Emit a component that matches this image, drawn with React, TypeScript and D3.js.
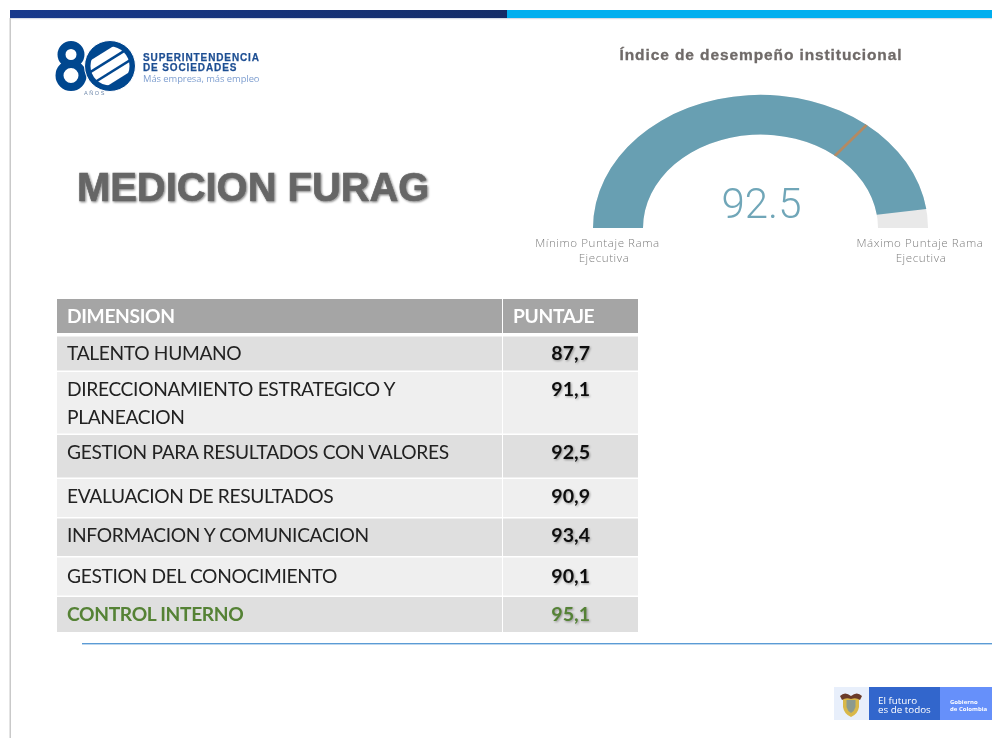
import React from "react";
import * as d3 from "d3";

const dimensions = [
  ["TALENTO HUMANO"],
  ["DIRECCIONAMIENTO ESTRATEGICO Y", "PLANEACION"],
  ["GESTION PARA RESULTADOS CON VALORES"],
  ["EVALUACION DE RESULTADOS"],
  ["INFORMACION Y COMUNICACION"],
  ["GESTION DEL CONOCIMIENTO"],
  ["CONTROL INTERNO"],
];
const scores = [87.7, 91.1, 92.5, 90.9, 93.4, 90.1, 95.1];
const columnHeaders = ["DIMENSION", "PUNTAJE"];
const gaugeTitle = "Índice de desempeño institucional";
const gaugeValue = 92.5;
const gaugeMin = 0;
const gaugeMax = 96.9;
const gaugeTarget = 69.6;
const minLabel = ["Mínimo Puntaje Rama", "Ejecutiva"];
const maxLabel = ["Máximo Puntaje Rama", "Ejecutiva"];

// layout
const rowTops = [336.5, 372, 435, 479, 518.5, 557.5, 597];
const rowBottoms = [370.5, 433.5, 477.5, 517, 556, 595.5, 632];
const rowTextY = [360, 396, 459, 503, 542, 583, 621];
const cx = 760.5, cy = 228, rOuter = 167.5, rInner = 117.5, squash = 0.795;

const fmt = (v: number) => d3.format(".1f")(v).replace(".", ",");

export default function App() {
  const angle = d3.scaleLinear().domain([gaugeMin, gaugeMax]).range([-Math.PI / 2, Math.PI / 2]);
  const arc = d3.arc<any>().innerRadius(rInner).outerRadius(rOuter);
  const full = arc({ startAngle: angle(gaugeMin), endAngle: angle(gaugeMax) }) as string;
  const filled = arc({ startAngle: angle(gaugeMin), endAngle: angle(gaugeValue) }) as string;
  const t = angle(gaugeTarget);
  const sans = "'Liberation Sans', Arial, sans-serif";
  const lato = "Lato, sans-serif";
  const thin = "'Open Sans', Lato, sans-serif";
  const rowText = { fontFamily: lato, fontSize: 19.2, letterSpacing: -0.34 };
  return (
    <svg width={992} height={738} viewBox="0 0 992 738" style={{ position: "absolute", left: 0, top: 0, background: "#fff" }}>
      <defs>
        <filter id="b"><feGaussianBlur stdDeviation="0.6" /></filter>
        <filter id="b2"><feGaussianBlur stdDeviation="0.6" /></filter>
        <filter id="sh" x="-5%" y="-20%" width="110%" height="140%">
          <feGaussianBlur in="SourceGraphic" stdDeviation="0.5" result="t" />
          <feDropShadow in="t" dx="1" dy="1" stdDeviation="1.2" floodColor="#000" floodOpacity="0.5" />
        </filter>
        <linearGradient id="navy" x1="0" x2="1">
          <stop offset="0" stopColor="#17398c" />
          <stop offset="1" stopColor="#132c68" />
        </linearGradient>
        <clipPath id="lens"><circle cx={110} cy={66} r={19.5} /></clipPath>
      </defs>

      <rect x={10} y={10} width={497} height={8} fill="url(#navy)" />
      <rect x={507} y={10} width={485} height={8} fill="#00aeef" />
      <rect x={10} y={18} width={982} height={1.2} fill="#d6dbe6" />
      <rect x={9.5} y={18} width={1.5} height={720} fill="#c9c9c9" />

      <g filter="url(#b)">
        <g fill="none" stroke="#06478f" strokeWidth={8}>
          <circle cx={71} cy={54.5} r={9.5} />
          <circle cx={71} cy={75.5} r={11.5} />
        </g>
        <circle cx={110} cy={66} r={25.5} fill="#06478f" stroke="#fff" strokeWidth={1} />
        <g clipPath="url(#lens)">
          <g transform="rotate(-32 110 66)" fill="#fff">
            <rect x={88} y={51} width={44} height={8.5} />
            <rect x={88} y={62} width={44} height={8.5} />
            <rect x={88} y={73} width={44} height={8.5} />
          </g>
        </g>
        <text x={95} y={95} fontFamily={sans} fontSize={5.5} letterSpacing={1.6} textAnchor="middle" fill="#6d87aa">AÑOS</text>
        <text x={143} y={60.5} fontFamily={sans} fontWeight={700} fontSize={10} letterSpacing={0.88} fill="#1f4f93" stroke="#1f4f93" strokeWidth={0.25}>SUPERINTENDENCIA</text>
        <text x={143} y={71} fontFamily={sans} fontWeight={700} fontSize={10} letterSpacing={0.88} fill="#1f4f93" stroke="#1f4f93" strokeWidth={0.25}>DE SOCIEDADES</text>
        <text x={143} y={82} fontFamily={thin} fontSize={9.4} letterSpacing={-0.05} fill="#7f9fd0">Más empresa, más empleo</text>
      </g>

      <text x={77} y={201} fontFamily={sans} fontWeight={700} fontSize={39.9} fill="#666" stroke="#666" strokeWidth={0.7} filter="url(#sh)">MEDICION FURAG</text>

      <g filter="url(#b)">
        <text x={761} y={60} fontFamily={sans} fontWeight={700} fontSize={15.5} letterSpacing={0.9} textAnchor="middle" fill="#6f6a68" stroke="#6f6a68" strokeWidth={0.3}>{gaugeTitle}</text>
        <g transform={`translate(${cx},${cy}) scale(1,${squash})`}>
          <path d={full} fill="#e9e9e9" />
          <path d={filled} fill="#689fb2" />
          <line
            x1={rInner * Math.sin(t)} y1={-rInner * Math.cos(t)}
            x2={rOuter * Math.sin(t)} y2={-rOuter * Math.cos(t)}
            stroke="#b48a62" strokeWidth={3}
          />
        </g>
        <text x={761.5} y={218} fontFamily="Roboto, sans-serif" fontWeight={300} fontSize={42} textAnchor="middle" fill="#6fa6b8">{String(gaugeValue)}</text>
        {minLabel.map((s, i) => (
          <text key={s} x={i ? 604 : 597.5} y={247 + i * 15} fontFamily={thin} fontWeight={300} fontSize={11.6} letterSpacing={0.55} textAnchor="middle" fill="#808080">{s}</text>
        ))}
        {maxLabel.map((s, i) => (
          <text key={s} x={i ? 921 : 920} y={247 + i * 15} fontFamily={thin} fontWeight={300} fontSize={11.6} letterSpacing={0.55} textAnchor="middle" fill="#808080">{s}</text>
        ))}
      </g>

      <g filter="url(#b)">
        <rect x={57} y={299} width={445} height={34} fill="#a5a5a5" />
        <rect x={503} y={299} width={135} height={34} fill="#a5a5a5" />
        <text x={67} y={323} {...rowText} fontWeight={700} fill="#fff">{columnHeaders[0]}</text>
        <text x={513} y={323} {...rowText} fontWeight={700} fill="#fff">{columnHeaders[1]}</text>
        {dimensions.map((lines, i) => {
          const green = i === dimensions.length - 1;
          const fill = i % 2 === 0 ? "#dfdfdf" : "#efefef";
          return (
            <g key={lines[0]}>
              <rect x={57} y={rowTops[i]} width={445} height={rowBottoms[i] - rowTops[i]} fill={fill} />
              <rect x={503} y={rowTops[i]} width={135} height={rowBottoms[i] - rowTops[i]} fill={fill} />
              {lines.map((s, j) => (
                <text key={s} x={67} y={rowTextY[i] + j * 28} {...rowText} fontWeight={green ? 700 : 400} fill={green ? "#548235" : "#222"}>{s}</text>
              ))}
              <text x={590} y={rowTextY[i]} textAnchor="end" fontFamily={lato} fontSize={19.6} fontWeight={700} fill={green ? "#548235" : "#111"} style={{ filter: "drop-shadow(1px 1px 1px rgba(0,0,0,.35))" }}>{fmt(scores[i])}</text>
            </g>
          );
        })}
      </g>

      <rect x={82} y={643} width={910} height={1.4} fill="#5b9bd5" />

      <g filter="url(#b2)">
        <rect x={834} y={687} width={35} height={33} fill="#e8effb" />
        <rect x={869} y={687} width={71} height={33} fill="#3366cc" />
        <rect x={940} y={687} width={52} height={33} fill="#6690fa" />
        <path d="M843 697 h16 v10 q-1 7 -8 10 q-7 -3 -8 -10 z" fill="#d9b84a" />
        <path d="M846.5 700 h9 v7 q-1 4 -4.5 6 q-3.5 -2 -4.5 -6 z" fill="#8c9a8e" />
        <path d="M840 696 q5 -5 11 0 q6 -5 11 0 l-2 4 q-4 -3 -9 -1 q-5 -2 -9 1 z" fill="#6b3b2a" />
        <text x={878} y={704} fontFamily={thin} fontSize={9.8} fill="#fff">El futuro</text>
        <text x={878} y={713} fontFamily={thin} fontSize={9.8} fill="#fff">es de todos</text>
        <text x={950} y={703.5} fontFamily={thin} fontWeight={700} fontSize={6} fill="#fff">Gobierno</text>
        <text x={950} y={711} fontFamily={thin} fontWeight={700} fontSize={6} fill="#fff">de Colombia</text>
      </g>
    </svg>
  );
}
